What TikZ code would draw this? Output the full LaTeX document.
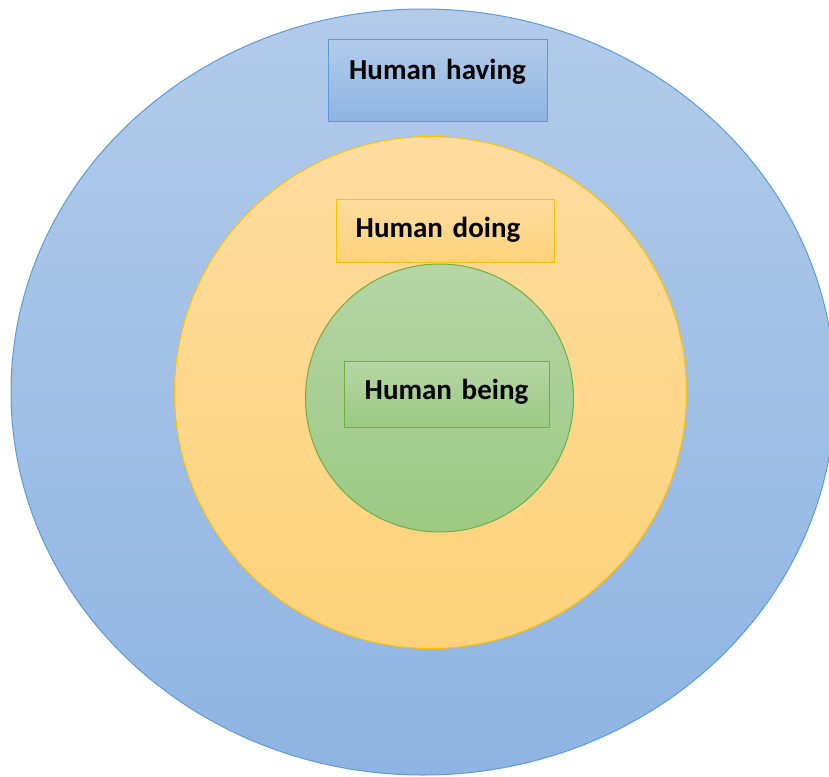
\documentclass[tikz,border=0pt]{standalone}
\usepackage{fontspec}
\setmainfont{Carlito}
\usepackage{xcolor}
\usetikzlibrary{shapes,positioning}
\definecolor{havingline}{HTML}{5B9BD5}
\definecolor{havingtop}{HTML}{B2CBE9}
\definecolor{havingbot}{HTML}{8EB4E3}
\definecolor{doingline}{HTML}{FFC000}
\definecolor{doingtop}{HTML}{FEDC9F}
\definecolor{doingbot}{HTML}{FED279}
\definecolor{beingline}{HTML}{70AD47}
\definecolor{beingtop}{HTML}{B5D5A5}
\definecolor{beingbot}{HTML}{9BCA82}

\begin{document}
\begin{tikzpicture}[x=1pt,y=-1pt,
    ring/.style={line width=1pt},
    labelbox/.style={draw, rectangle, line width=1pt, inner sep=0pt, align=center,
        anchor=base, font=\fontsize{29}{35}\selectfont\bfseries}]
    \useasboundingbox (0,0) rectangle (829,776);
    % rings
    \draw[ring, draw=havingline, top color=havingtop, bottom color=havingbot] (423,392) ellipse [x radius=412, y radius=383];
    \draw[ring, draw=doingline, top color=doingtop, bottom color=doingbot] (430.5,392.5) circle [radius=256];
    \draw[ring, draw=beingline, top color=beingtop, bottom color=beingbot] (439.5,398) circle [radius=134];
    % labels
    \node[labelbox, draw=havingline, top color=havingtop, bottom color=havingbot,
        text width=219pt, text height=39pt, text depth=42pt] (having) at (437.5,79) {Human having};
    \node[labelbox, draw=doingline, top color=doingtop, bottom color=doingbot,
        text width=218pt, text height=38pt, text depth=25pt] (doing) at (445,237) {Human doing\kern14pt};
    \node[labelbox, draw=beingline, top color=beingtop, bottom color=beingbot,
        text width=205pt, text height=38pt, text depth=28pt] (being) at (446.5,399) {Human being};
\end{tikzpicture}
\end{document}
